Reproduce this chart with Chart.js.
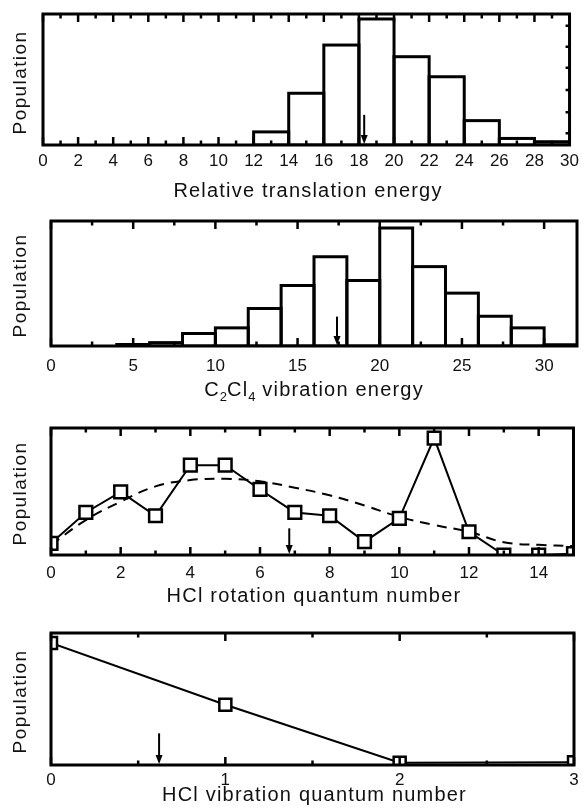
<!DOCTYPE html>
<html lang="en">
<head>
<meta charset="UTF-8">
<title>Population distributions</title>
<style>
  body { margin: 0; background: #fff; font-family: "Liberation Sans", Arial, sans-serif; color: #111; }
  .page { position: relative; width: 585px; height: 807px; overflow: hidden; }
  canvas { position: absolute; left: 0; }
  .xtitle { position: absolute; text-align: center; font-size: 20px; line-height: 20px; letter-spacing: 1.2px; white-space: nowrap; }
  .ytitle { position: absolute; width: 160px; text-align: center; font-size: 19px; line-height: 19px; letter-spacing: 1.4px; transform: rotate(-90deg); }
  .xtitle sub { font-size: 13px; line-height: 0; vertical-align: -5px; letter-spacing: 0; }
</style>
</head>
<body>
<div class="page">
  <canvas id="c1" width="585" height="178" style="top:0px"></canvas>
  <canvas id="c2" width="585" height="178" style="top:200px"></canvas>
  <canvas id="c3" width="585" height="185" style="top:400px"></canvas>
  <canvas id="c4" width="585" height="185" style="top:610px"></canvas>

  <div class="ytitle" style="left:-61px; top:73px">Population</div>
  <div class="ytitle" style="left:-61px; top:276px">Population</div>
  <div class="ytitle" style="left:-61px; top:484px">Population</div>
  <div class="ytitle" style="left:-61px; top:692px">Population</div>

  <div class="xtitle" style="left:43px; width:530px; top:180px">Relative translation energy</div>
  <div class="xtitle" style="left:51px; width:526px; top:379px">C<sub>2</sub>Cl<sub>4</sub> vibration energy</div>
  <div class="xtitle" style="left:51px; width:526px; top:585px">HCl rotation quantum number</div>
  <div class="xtitle" style="left:51px; width:527px; top:784px">HCl vibration quantum number</div>
</div>

<script src="https://cdn.jsdelivr.net/npm/chart.js"></script>
<script>
// relative translation energy, bins of width 2 (left edges)
const transBins = [12, 14, 16, 18, 20, 22, 24, 26, 28];
const transPop = [0.10, 0.395, 0.763, 0.962, 0.674, 0.521, 0.186, 0.05, 0.025];
const transTicks = [0, 2, 4, 6, 8, 10, 12, 14, 16, 18, 20, 22, 24, 26, 28, 30];
const transMean = 18.3;

// C2Cl4 vibration energy, bins of width 2
const vibBins = [4, 6, 8, 10, 12, 14, 16, 18, 20, 22, 24, 26, 28, 30];
const vibPop = [0.012, 0.027, 0.10, 0.145, 0.30, 0.484, 0.714, 0.524, 0.944, 0.635, 0.423, 0.238, 0.145, 0.01];
const vibTicks = [0, 5, 10, 15, 20, 25, 30];
const vibMean = 17.4;

// HCl rotational states
const rotJ = [0, 1, 2, 3, 4, 5, 6, 7, 8, 9, 10, 11, 12, 13, 14, 15];
const rotPop = [0.092, 0.335, 0.497, 0.309, 0.707, 0.707, 0.516, 0.335, 0.309, 0.105, 0.288, 0.921, 0.183, 0.0, 0.0, 0.01];
const rotFit = [0.08, 0.275, 0.42, 0.54, 0.59, 0.60, 0.58, 0.53, 0.47, 0.39, 0.30, 0.236, 0.183, 0.10, 0.08, 0.07];
const rotTicks = [0, 2, 4, 6, 8, 10, 12, 14];
const rotMean = 6.84;

// HCl vibrational states
const vLevels = [0, 1, 2, 3];
const vPop = [0.924, 0.456, 0.017, 0.02];
const vTicks = [0, 1, 2, 3];
const vMean = 0.62;

const FONT = 'Liberation Sans, Arial, sans-serif';

// frame, inward ticks, histogram outlines and the mean arrow
const framePlugin = {
  id: 'frame',
  afterDatasetsDraw(chart, args, opts) {
    const ctx = chart.ctx;
    const { left, right, top, bottom } = chart.chartArea;
    const xs = chart.scales.x, ys = chart.scales.y;

    if (opts.outline) {
      ctx.save();
      ctx.strokeStyle = '#000';
      ctx.lineWidth = 3;
      ctx.beginPath();
      ctx.rect(left, top, right - left, bottom - top);
      ctx.clip();
      chart.getDatasetMeta(0).data.forEach(bar => {
        const p = bar.getProps(['x', 'y', 'base', 'width'], true);
        ctx.strokeRect(p.x - p.width / 2, p.y, p.width, p.base - p.y);
      });
      ctx.restore();
    }

    ctx.save();
    ctx.strokeStyle = '#000';
    ctx.fillStyle = '#000';
    ctx.lineWidth = 2.5;
    ctx.beginPath();
    const n = Math.floor((xs.max - xs.min) / opts.minor + 1e-6);
    for (let i = 0; i <= n; i++) {
      const v = xs.min + i * opts.minor;
      const px = xs.getPixelForValue(v);
      const r = v / opts.major;
      const len = Math.abs(r - Math.round(r)) < 1e-6 ? 8 : 4.5;
      ctx.moveTo(px, bottom); ctx.lineTo(px, bottom - len);
      ctx.moveTo(px, top); ctx.lineTo(px, top + len);
    }
    (opts.rightTicks || []).forEach(v => {
      const py = ys.getPixelForValue(v);
      ctx.moveTo(right, py); ctx.lineTo(right - 4, py);
    });
    ctx.stroke();

    // arrow marking the mean
    const ax = xs.getPixelForValue(opts.arrowAt);
    const ay = ys.getPixelForValue(opts.arrowLen);
    const tip = bottom - 1;
    ctx.lineWidth = 2;
    ctx.beginPath();
    ctx.moveTo(ax, ay); ctx.lineTo(ax, tip - 6);
    ctx.stroke();
    ctx.beginPath();
    ctx.moveTo(ax - 3.5, tip - 9); ctx.lineTo(ax + 3.5, tip - 9); ctx.lineTo(ax, tip);
    ctx.closePath();
    ctx.fill();

    ctx.lineWidth = 3;
    ctx.strokeRect(left, top, right - left, bottom - top);
    ctx.restore();
  }
};

function xAxis(ticks, min, max, height, pad) {
  return {
    type: 'linear', min: min, max: max, offset: false,
    grid: { display: false, drawTicks: false, offset: false },
    border: { display: false },
    ticks: { autoSkip: false, maxRotation: 0, padding: pad, color: '#111', font: { family: FONT, size: 17 } },
    afterBuildTicks: s => { s.ticks = ticks.map(v => ({ value: v })); },
    afterFit: s => { s.height = height; }
  };
}

function makePanel(id, type, datasets, geo, x, frame) {
  return new Chart(document.getElementById(id), {
    type: type,
    data: { datasets: datasets },
    options: {
      responsive: false,
      animation: false,
      devicePixelRatio: 1,
      layout: { padding: { left: geo.left, right: 585 - geo.right, top: geo.top, bottom: 0 } },
      scales: {
        x: x,
        y: { display: false, min: 0, max: 1 }
      },
      plugins: { legend: { display: false }, tooltip: { enabled: false }, frame: frame }
    },
    plugins: [framePlugin]
  });
}

function histData(bins, pop) {
  return [{
    data: bins.map((b, i) => ({ x: b + 1, y: pop[i] })),
    backgroundColor: 'rgba(0,0,0,0)',
    borderWidth: 0,
    barPercentage: 1,
    categoryPercentage: 1
  }];
}

makePanel('c1', 'bar', histData(transBins, transPop),
  { left: 43, right: 573, top: 14 },
  xAxis(transTicks, 0, 30, 33, 6),
  { outline: true, minor: 1, major: 2, arrowAt: transMean, arrowLen: 0.23,
    rightTicks: [0.09, 0.25, 0.42, 0.59, 0.75, 0.91] });

makePanel('c2', 'bar', histData(vibBins, vibPop),
  { left: 51, right: 577, top: 21 },
  xAxis(vibTicks, 0, 32, 32, 10),
  { outline: true, minor: 2.5, major: 5, arrowAt: vibMean, arrowLen: 0.235 });

makePanel('c3', 'line', [
  {
    data: rotJ.map((j, i) => ({ x: j, y: rotPop[i] })),
    borderColor: '#000', borderWidth: 2,
    pointStyle: 'rect', pointRadius: 9, pointBorderWidth: 2.5,
    pointBackgroundColor: '#fff', pointBorderColor: '#000'
  },
  {
    data: rotJ.map((j, i) => ({ x: j, y: rotFit[i] })),
    borderColor: '#000', borderWidth: 2, borderDash: [10, 7],
    tension: 0.4, pointRadius: 0
  }
], { left: 51, right: 577, top: 28 },
  xAxis(rotTicks, 0, 15, 30, 8),
  { minor: 1, major: 2, arrowAt: rotMean, arrowLen: 0.21 });

makePanel('c4', 'line', [
  {
    data: vLevels.map((v, i) => ({ x: v, y: vPop[i] })),
    borderColor: '#000', borderWidth: 2,
    pointStyle: 'rect', pointRadius: 8.5, pointBorderWidth: 2.5,
    pointBackgroundColor: '#fff', pointBorderColor: '#000'
  }
], { left: 51, right: 578, top: 23 },
  xAxis(vTicks, 0, 3, 30, 5),
  { minor: 0.5, major: 1, arrowAt: vMean, arrowLen: 0.24 });
</script>
</body>
</html>
